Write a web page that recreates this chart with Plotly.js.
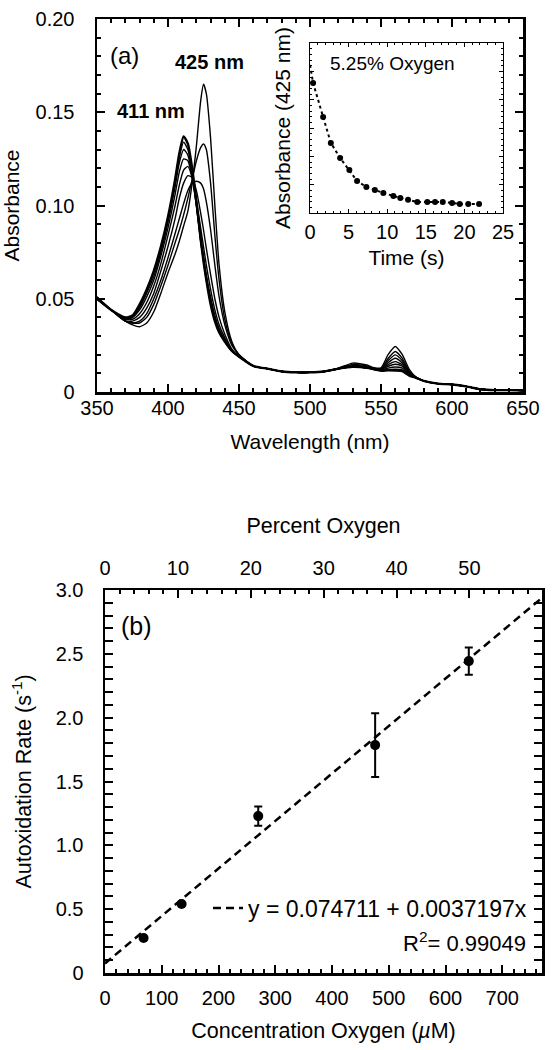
<!DOCTYPE html>
<html><head><meta charset="utf-8">
<script src="https://cdn.plot.ly/plotly-3.0.1.min.js"></script>
<style>html,body{margin:0;padding:0;background:#fff}#chart{width:560px;height:1050px}</style>
</head><body><div id="chart"></div>
<script>
// ---------- Panel (a): spectra ----------
const wavelength = [350,360,370,375,380,385,390,395,400,405,408,411,414,417,420,423,425,427,430,433,436,440,445,450,460,470,480,490,500,510,520,530,540,545,550,555,560,565,570,575,580,590,600,610,620,630,640,650];
const spec1 = [.051,.044,.038,.036,.035,.037,.043,.053,.064,.074,.081,.089,.097,.112,.132,.156,.165,.160,.136,.100,.068,.043,.027,.020,.014,.0125,.011,.0105,.0105,.011,.0128,.0155,.0145,.013,.013,.020,.0244,.020,.012,.0078,.006,.0045,.004,.003,.0015,.001,.001,.0008];
const spec2 = [.051,.044,.038,.037,.037,.040,.047,.057,.068,.080,.087,.095,.104,.114,.124,.131,.133,.130,.112,.084,.060,.039,.026,.020,.014,.0125,.011,.0105,.0105,.011,.0127,.0148,.014,.0128,.0125,.018,.0217,.018,.011,.0078,.006,.0045,.004,.003,.0015,.001,.001,.0008];
const spec3 = [.051,.044,.038,.037,.038,.042,.050,.060,.072,.085,.093,.101,.108,.112,.113,.112,.109,.102,.087,.068,.051,.036,.025,.020,.014,.0125,.011,.0105,.0105,.011,.0126,.0142,.0135,.0127,.0122,.0168,.0199,.0168,.0105,.0077,.006,.0045,.004,.003,.0015,.001,.001,.0008];
const spec4 = [.050,.044,.038,.038,.040,.045,.053,.065,.078,.093,.104,.112,.116,.115,.108,.096,.087,.077,.063,.050,.040,.031,.023,.019,.014,.0125,.011,.0105,.0105,.011,.0125,.0136,.013,.0125,.012,.0157,.0181,.0156,.010,.0076,.006,.0045,.004,.003,.0015,.001,.001,.0008];
const spec5 = [.050,.044,.039,.039,.042,.048,.057,.069,.084,.100,.111,.119,.121,.115,.103,.088,.078,.068,.055,.044,.036,.029,.022,.019,.014,.0125,.011,.0105,.0105,.011,.0125,.0135,.013,.0124,.012,.0147,.0163,.0146,.0097,.0076,.006,.0045,.004,.003,.0015,.001,.001,.0008];
const spec6 = [.050,.044,.039,.040,.044,.051,.060,.073,.088,.106,.118,.125,.124,.115,.100,.083,.073,.063,.051,.041,.034,.028,.022,.019,.014,.0125,.011,.0105,.0105,.011,.0125,.0135,.013,.0123,.0118,.0138,.0149,.0138,.0095,.0075,.006,.0045,.004,.003,.0015,.001,.001,.0008];
const spec7 = [.050,.044,.039,.040,.045,.053,.062,.075,.091,.110,.123,.130,.127,.116,.100,.081,.071,.061,.049,.040,.033,.027,.022,.019,.014,.0125,.011,.0105,.0105,.011,.0125,.0135,.013,.0122,.0116,.0128,.0134,.0128,.0092,.0075,.006,.0045,.004,.003,.0015,.001,.001,.0008];
const spec8 = [.050,.044,.039,.041,.046,.054,.064,.077,.093,.112,.126,.134,.130,.118,.101,.081,.070,.060,.048,.039,.032,.027,.022,.019,.014,.0125,.011,.0105,.0105,.011,.0125,.0135,.013,.0122,.0115,.012,.0122,.0118,.009,.0075,.006,.0045,.004,.003,.0015,.001,.001,.0008];
const spec9 = [.050,.044,.040,.041,.047,.055,.065,.078,.094,.114,.128,.137,.133,.120,.102,.082,.070,.060,.047,.038,.032,.027,.022,.019,.014,.0125,.011,.0105,.0105,.011,.0125,.0135,.013,.0122,.0114,.0116,.0115,.0112,.0088,.0075,.006,.0045,.004,.003,.0015,.001,.001,.0008];
const spectra = [spec1,spec2,spec3,spec4,spec5,spec6,spec7,spec8,spec9];
const absTickVals = [0,0.05,0.10,0.15,0.20];
const absTickText = ['0','0.05','0.10','0.15','0.20'];

// ---------- Inset: absorbance at 425 nm vs time ----------
const insetTime = [0.4,1.7,2.7,3.9,5.1,6.1,7.3,8.4,9.5,10.8,11.7,12.7,13.9,15.2,16.2,17.2,18.4,19.4,20.5,21.9];
const insetAbs  = [0.1555,0.1423,0.1322,0.1264,0.1217,0.1174,0.1151,0.1139,0.1128,0.1116,0.1108,0.1101,0.1093,0.1093,0.1093,0.1093,0.1089,0.1085,0.1085,0.1085];
const insetFitTime = [0].concat(insetTime);
const insetFitAbs  = [0.1625].concat(insetAbs);

// ---------- Panel (b): rate vs oxygen ----------
const oxygenUM = [68,135,270,476,641];
const oxygenPct = [5.25,10.5,21,37,50];
const autoxRate = [0.274,0.540,1.229,1.785,2.443];
const autoxErr = [0,0,0.075,0.25,0.106];
const fitX = [0,770];
const fitY = [0.0747,2.939];
const rateTickVals = [0,0.5,1,1.5,2,2.5,3];
const rateTickText = ['0','0.5','1.0','1.5','2.0','2.5','3.0'];

const W=560,H=1050;
const px = v => v/W, py = v => 1 - v/H;
const FONT = '"Liberation Sans", Arial, Helvetica, sans-serif';

const traces = [];
spectra.forEach((s,i)=>{
  traces.push({x:wavelength,y:s,xaxis:'x',yaxis:'y',mode:'lines',showlegend:false,hoverinfo:'skip',
    line:{color:'#000',width:i===8?2.4:1.4,shape:'spline',smoothing:0.6}});
});
traces.push({x:insetFitTime,y:insetFitAbs,xaxis:'x2',yaxis:'y2',mode:'lines',showlegend:false,
  line:{color:'#000',width:2,dash:'dot'}});
traces.push({x:insetTime,y:insetAbs,xaxis:'x2',yaxis:'y2',mode:'markers',showlegend:false,
  marker:{color:'#000',size:6}});
traces.push({x:fitX,y:fitY,xaxis:'x3',yaxis:'y3',mode:'lines',name:'y = 0.074711 + 0.0037197x',showlegend:true,
  line:{color:'#000',width:2.5,dash:'8px,5px'}});
traces.push({x:oxygenUM,y:autoxRate,xaxis:'x3',yaxis:'y3',mode:'markers',showlegend:false,
  marker:{color:'#000',size:10},
  error_y:{type:'data',array:autoxErr,visible:true,color:'#000',thickness:2,width:4}});
traces.push({x:oxygenPct,y:autoxRate,xaxis:'x4',yaxis:'y3',mode:'markers',showlegend:false,hoverinfo:'skip',
  marker:{color:'rgba(0,0,0,0)',size:1}});

const tf = {family:FONT,size:20,color:'#000'};
const tA = {family:FONT,size:21,color:'#000'};
const tB = {family:FONT,size:21.5,color:'#000'};
const baseAx = {showgrid:false,zeroline:false,showline:true,linecolor:'#000',linewidth:2.5,
  ticks:'inside',ticklen:8,tickwidth:2,tickcolor:'#000',tickfont:tf};

const layout = {
  width:W,height:H,margin:{l:0,r:0,t:0,b:0},paper_bgcolor:'#fff',plot_bgcolor:'rgba(0,0,0,0)',
  font:tf,showlegend:true,
  xaxis:Object.assign({},baseAx,{domain:[px(97),px(523)],anchor:'y',range:[350,650],tickmode:'linear',tick0:350,dtick:50,
    minor:{tickmode:'linear',tick0:350,dtick:10,ticks:'inside',ticklen:4,tickwidth:2,tickcolor:'#000'},
    mirror:'allticks',ticklabelstandoff:-4,title:{text:'Wavelength (nm)',font:tA,standoff:17}}),
  yaxis:Object.assign({},baseAx,{domain:[py(392),py(19)],anchor:'x',range:[0,0.2],tickmode:'array',tickvals:absTickVals,ticktext:absTickText,
    minor:{tickmode:'linear',tick0:0,dtick:0.01,ticks:'inside',ticklen:4,tickwidth:2,tickcolor:'#000'},
    mirror:'allticks',ticklabelstandoff:16,title:{text:'Absorbance',font:tA,standoff:10}}),
  xaxis2:Object.assign({},baseAx,{domain:[px(310),px(503)],anchor:'y2',range:[0,25],tickmode:'linear',tick0:0,dtick:5,
    linewidth:1,tickwidth:1,ticklen:4,
    minor:{tickmode:'linear',tick0:0,dtick:1,ticks:'inside',ticklen:2,tickwidth:1,tickcolor:'#000'},
    mirror:'allticks',ticklabelstandoff:1,title:{text:'Time (s)',font:tA,standoff:8}}),
  yaxis2:Object.assign({},baseAx,{domain:[py(213),py(43)],anchor:'x2',range:[0.105,0.171],tickmode:'linear',tick0:0.105,dtick:0.011,
    linewidth:1,tickwidth:1,ticklen:4,showticklabels:false,
    minor:{tickmode:'linear',tick0:0.105,dtick:0.0022,ticks:'inside',ticklen:2,tickwidth:1,tickcolor:'#000'},
    mirror:'allticks',title:{text:'Absorbance (425 nm)',font:tA,standoff:12}}),
  xaxis3:Object.assign({},baseAx,{domain:[px(105),px(542)],anchor:'y3',range:[0,770],tickmode:'linear',tick0:0,dtick:100,
    minor:{tickmode:'linear',tick0:0,dtick:20,ticks:'inside',ticklen:4,tickwidth:2,tickcolor:'#000'},
    mirror:false,ticklabelstandoff:5,title:{text:'Concentration Oxygen (<i>µ</i>M)',font:tB,standoff:16}}),
  xaxis4:Object.assign({},baseAx,{overlaying:'x3',side:'top',anchor:'y3',range:[0,59.95],tickmode:'linear',tick0:0,dtick:10,
    minor:{tickmode:'linear',tick0:0,dtick:2,ticks:'inside',ticklen:4,tickwidth:2,tickcolor:'#000'},
    ticklabelstandoff:5,title:{text:'Percent Oxygen',font:tB,standoff:17}}),
  yaxis3:Object.assign({},baseAx,{domain:[py(973),py(590)],anchor:'x3',range:[0,3],tickmode:'array',tickvals:rateTickVals,ticktext:rateTickText,
    minor:{tickmode:'linear',tick0:0,dtick:0.1,ticks:'inside',ticklen:4,tickwidth:2,tickcolor:'#000'},
    mirror:'allticks',ticklabelstandoff:15,title:{text:'Autoxidation Rate (s<sup>-1</sup>)',font:tB,standoff:18}}),
  legend:{x:px(532),xanchor:'right',y:py(908),yanchor:'middle',bgcolor:'rgba(0,0,0,0)',font:{family:FONT,size:23,color:'#000'},itemwidth:30,borderwidth:0},
  annotations:[
    {text:'(a)',xref:'paper',yref:'paper',x:px(124),y:py(55),xanchor:'center',yanchor:'middle',showarrow:false,font:{family:FONT,size:24,color:'#000'}},
    {text:'<b>425 nm</b>',xref:'paper',yref:'paper',x:px(209),y:py(62),xanchor:'center',yanchor:'middle',showarrow:false,font:tf},
    {text:'<b>411 nm</b>',xref:'paper',yref:'paper',x:px(151),y:py(111),xanchor:'center',yanchor:'middle',showarrow:false,font:tf},
    {text:'5.25% Oxygen',xref:'paper',yref:'paper',x:px(392),y:py(63),xanchor:'center',yanchor:'middle',showarrow:false,font:{family:FONT,size:19,color:'#000'}},
    {text:'(b)',xref:'paper',yref:'paper',x:px(136),y:py(626),xanchor:'center',yanchor:'middle',showarrow:false,font:{family:FONT,size:25,color:'#000'}},
    {text:'R<sup>2</sup>= 0.99049',xref:'paper',yref:'paper',x:px(528),y:py(942),xanchor:'right',yanchor:'middle',showarrow:false,font:{family:FONT,size:22,color:'#000'}}
  ]
};
Plotly.newPlot('chart',traces,layout,{displayModeBar:false,staticPlot:true});
</script></body></html>
